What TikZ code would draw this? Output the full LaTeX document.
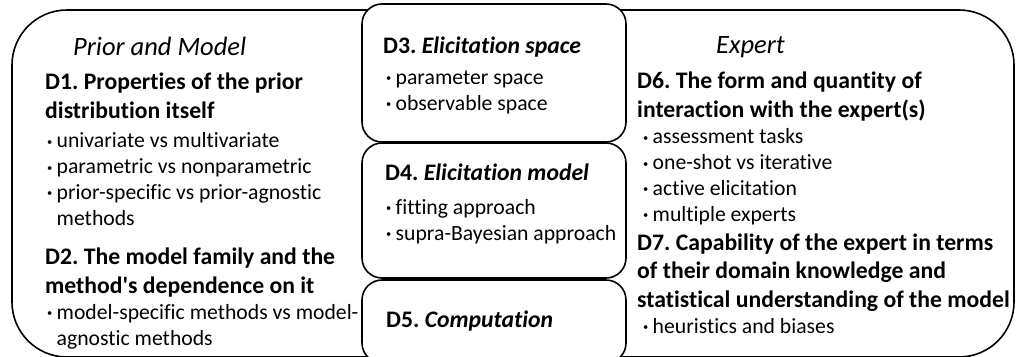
\documentclass[tikz,border=0pt]{standalone}
\usepackage{fontspec}
\setmainfont{Carlito}[Ligatures=NoCommon]
\usetikzlibrary{positioning}
\tikzset{
    group-box/.style = {draw=black, line width=1.6pt, rectangle, rounded corners=55pt, inner sep=0pt},
    dim-box/.style = {draw=black, fill=white, line width=1.6pt, rectangle, rounded corners=20pt, minimum width=264pt, inner sep=0pt},
    group-title/.style = {anchor=base west, inner sep=0pt, font=\fontsize{26.5}{30}\selectfont\itshape},
    dim-title/.style = {anchor=base west, inner sep=0pt, align=left, font=\fontsize{23.7}{28.5}\selectfont\bfseries},
    dim-items/.style = {anchor=base west, inner sep=0pt, align=left, font=\fontsize{21.7}{25.7}\selectfont},
}
\newcommand{\dimbul}{\makebox[9.5pt][l]{\raisebox{0.25ex}{\fontsize{10.5}{10}\selectfont•}}}
\frenchspacing

\begin{document}
\begin{tikzpicture}[x=1pt, y=-1pt]
\useasboundingbox (0,0) rectangle (1016,356);
% outer group
\node [group-box, minimum width=1002pt, minimum height=347pt] (outer) at (513,183.5) {};
% middle column
\node [dim-box, minimum height=138pt] (d3box) at (494,73) {};
\node [dim-box, minimum height=135pt] (d4box) at (494,210.5) {};
\node [dim-box, minimum height=83pt] (d5box) at (494,321.5) {};

% prior and model (base = last line)
\node [group-title] (priortitle) at (73,55) {Prior and Model};
\node [dim-title] (d1title) at (45,118) {D1. Properties of the prior\\distribution itself};
\node [dim-items] (d1items) at (47,225) {\dimbul univariate vs multivariate\\\dimbul parametric vs nonparametric\\\dimbul prior-specific vs prior-agnostic\\\phantom{\dimbul}methods};
\node [dim-title] (d2title) at (45,293) {D2. The model family and the\\method\textquotesingle s dependence on it};
\node [dim-items] (d2items) at (47,345) {\dimbul model-specific methods vs model-\\\phantom{\dimbul}agnostic methods};

% elicitation
\node [dim-title] (d3title) at (383,53) {D3. \textit{Elicitation space}};
\node [dim-items] (d3items) at (386,110) {\dimbul parameter space\\\dimbul observable space};
\node [dim-title] (d4title) at (385,180) {D4. \textit{Elicitation model}};
\node [dim-items] (d4items) at (386,240) {\dimbul fitting approach\\\dimbul supra-Bayesian approach};
\node [dim-title] (d5title) at (386,327) {D5. \textit{Computation}};

% expert
\node [group-title] (experttitle) at (716,53) {Expert};
\node [dim-title] (d6title) at (637,117) {D6. The form and quantity of\\interaction with the expert(s)};
\node [dim-items] (d6items) at (643,221) {\dimbul assessment tasks\\\dimbul one-shot vs iterative\\\dimbul active elicitation\\\dimbul multiple experts};
\node [dim-title] (d7title) at (637,307) {D7. Capability of the expert in terms\\of their domain knowledge and\\statistical understanding of the model};
\node [dim-items] (d7items) at (643,333) {\dimbul heuristics and biases};
\end{tikzpicture}
\end{document}
